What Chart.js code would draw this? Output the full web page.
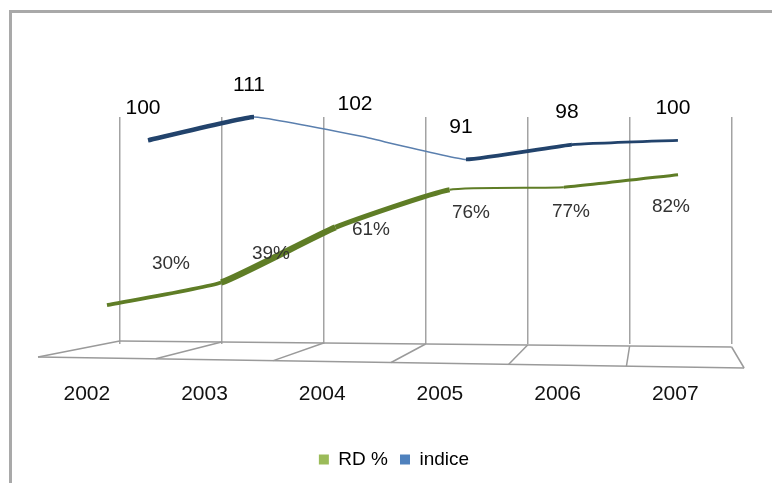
<!DOCTYPE html>
<html>
<head>
<meta charset="utf-8">
<script src="https://cdn.jsdelivr.net/npm/chart.js@4"></script>
<style>
  body { margin: 0; background: #fff; }
  #frame { position: absolute; left: 9px; top: 10px; right: 0; bottom: 0;
           border-left: 3px solid #a9a9a9; border-top: 3px solid #a9a9a9; }
  #chart { position: absolute; left: 0; top: 0; }
</style>
</head>
<body>
<div id="frame"></div>
<canvas id="chart" width="772" height="483"></canvas>
<script>
// values
const years = [2002, 2003, 2004, 2005, 2006, 2007];
const rdPct = [30, 39, 61, 76, 77, 82];
const indice = [100, 111, 102, 91, 98, 100];

const green = '#9bbb59';
const blue = '#4f81bd';
const font = "'Liberation Sans', Arial, sans-serif";

// ribbon look: rising segments appear thicker, like the 3D band
function ribbonWidth(ctx, base) {
    const rise = ctx.p0.y - ctx.p1.y;
    const run = ctx.p1.x - ctx.p0.x;
    if (rise <= 0) return 1.5;
    return base + 9 * rise / run;
}

// back wall grid, floor and value labels
const decor = {
    id: 'decor',
    beforeDatasetsDraw(chart) {
        const { ctx, chartArea, scales } = chart;
        const g = scales.xgrid, lab = scales.xlab;
        const b = chartArea.bottom;
        ctx.save();
        ctx.strokeStyle = '#9a9a9a';
        ctx.lineWidth = 1.5;
        // floor back edge
        ctx.beginPath();
        ctx.moveTo(g.getPixelForValue(0), b - 3);
        ctx.lineTo(g.getPixelForValue(years.length), b + 3);
        ctx.stroke();
        // floor front edge + dividers
        const f0 = lab.getPixelForValue(years[0] - 0.5);
        const f1 = lab.getPixelForValue(years[years.length - 1] + 0.5);
        ctx.beginPath();
        ctx.moveTo(f0, b + 13);
        ctx.lineTo(f1, b + 24);
        ctx.stroke();
        for (let i = 0; i <= years.length; i++) {
            const bx = g.getPixelForValue(i);
            const fx = lab.getPixelForValue(years[0] - 0.5 + i);
            const t = i / years.length;
            ctx.beginPath();
            ctx.moveTo(bx, b - 3 + 6 * t);
            ctx.lineTo(fx, b + 13 + 11 * t);
            ctx.stroke();
        }
        ctx.restore();
    },
    afterDatasetsDraw(chart) {
        const { ctx, scales } = chart;
        ctx.save();
        ctx.textAlign = 'center';
        ctx.textBaseline = 'middle';
        // indice labels above the blue line
        const blueMeta = chart.getDatasetMeta(1);
        ctx.font = '21px ' + font;
        ctx.fillStyle = '#000';
        blueMeta.data.forEach((pt, i) => {
            ctx.fillText(String(indice[i]), pt.x - 5, pt.y - 32);
        });
        // RD % labels placed on their own hidden scales
        ctx.font = '19px ' + font;
        ctx.fillStyle = '#333';
        rdPct.forEach((v, i) => {
            const x = scales.xl.getPixelForValue(years[i]);
            const y = scales.yl.getPixelForValue(v);
            ctx.fillText(v + '%', x, y);
        });
        ctx.restore();
    }
};

new Chart(document.getElementById('chart'), {
    type: 'line',
    data: {
        datasets: [{
            label: 'RD %',
            data: years.map((y, i) => ({ x: y, y: rdPct[i] })),
            xAxisID: 'xg',
            yAxisID: 'y1',
            borderColor: '#5f7d26',
            pointRadius: 0,
            tension: 0.15,
            segment: { borderWidth: c => ribbonWidth(c, 2) }
        }, {
            label: 'indice',
            data: years.map((y, i) => ({ x: y, y: indice[i] })),
            xAxisID: 'xb',
            yAxisID: 'y2',
            borderColor: '#22436c',
            pointRadius: 0,
            tension: 0.1,
            clip: false,
            segment: {
                borderWidth: c => ribbonWidth(c, 2.5),
                borderColor: c => (c.p1.y > c.p0.y ? '#5a7fae' : '#22436c')
            }
        }]
    },
    options: {
        responsive: false,
        animation: false,
        layout: { padding: { left: 38, right: 22, top: 117, bottom: 4 } },
        plugins: {
            legend: {
                position: 'bottom',
                labels: {
                    boxWidth: 10,
                    boxHeight: 10,
                    padding: 12,
                    color: '#111',
                    font: { family: font, size: 19 },
                    generateLabels: chart => chart.data.datasets.map((ds, i) => ({
                        text: ds.label,
                        fillStyle: i === 0 ? green : blue,
                        strokeStyle: i === 0 ? green : blue,
                        lineWidth: 0,
                        datasetIndex: i
                    }))
                }
            },
            tooltip: { enabled: false }
        },
        scales: {
            xlab: {
                type: 'linear',
                position: 'bottom',
                min: 2001.5,
                max: 2007.55,
                grid: { display: false, drawTicks: false },
                border: { display: false },
                afterFit: s => { s.height = 94; },
                ticks: {
                    stepSize: 1,
                    includeBounds: false,
                    padding: 38,
                    labelOffset: -10,
                    color: '#111',
                    font: { family: font, size: 21 },
                    callback: v => String(v)
                }
            },
            xgrid: {
                type: 'linear',
                position: 'bottom',
                min: -0.8,
                max: 6.18,
                grid: { color: '#a3a3a3', lineWidth: 1.5, drawTicks: false },
                border: { display: false },
                afterFit: s => { s.height = 0; },
                ticks: { display: false, stepSize: 1, includeBounds: false }
            },
            xg: { type: 'linear', display: false, min: 2001.396, max: 2007.63 },
            xb: { type: 'linear', display: false, min: 2000.962, max: 2007.68 },
            xl: { type: 'linear', display: false, min: 2000.67, max: 2007.79 },
            y1: { type: 'linear', display: false, min: 14.5, max: 105 },
            y2: { type: 'linear', display: false, min: 4, max: 111 },
            yl: { type: 'linear', display: false, min: -42.6, max: 162.8 }
        }
    },
    plugins: [decor]
});
</script>
</body>
</html>
